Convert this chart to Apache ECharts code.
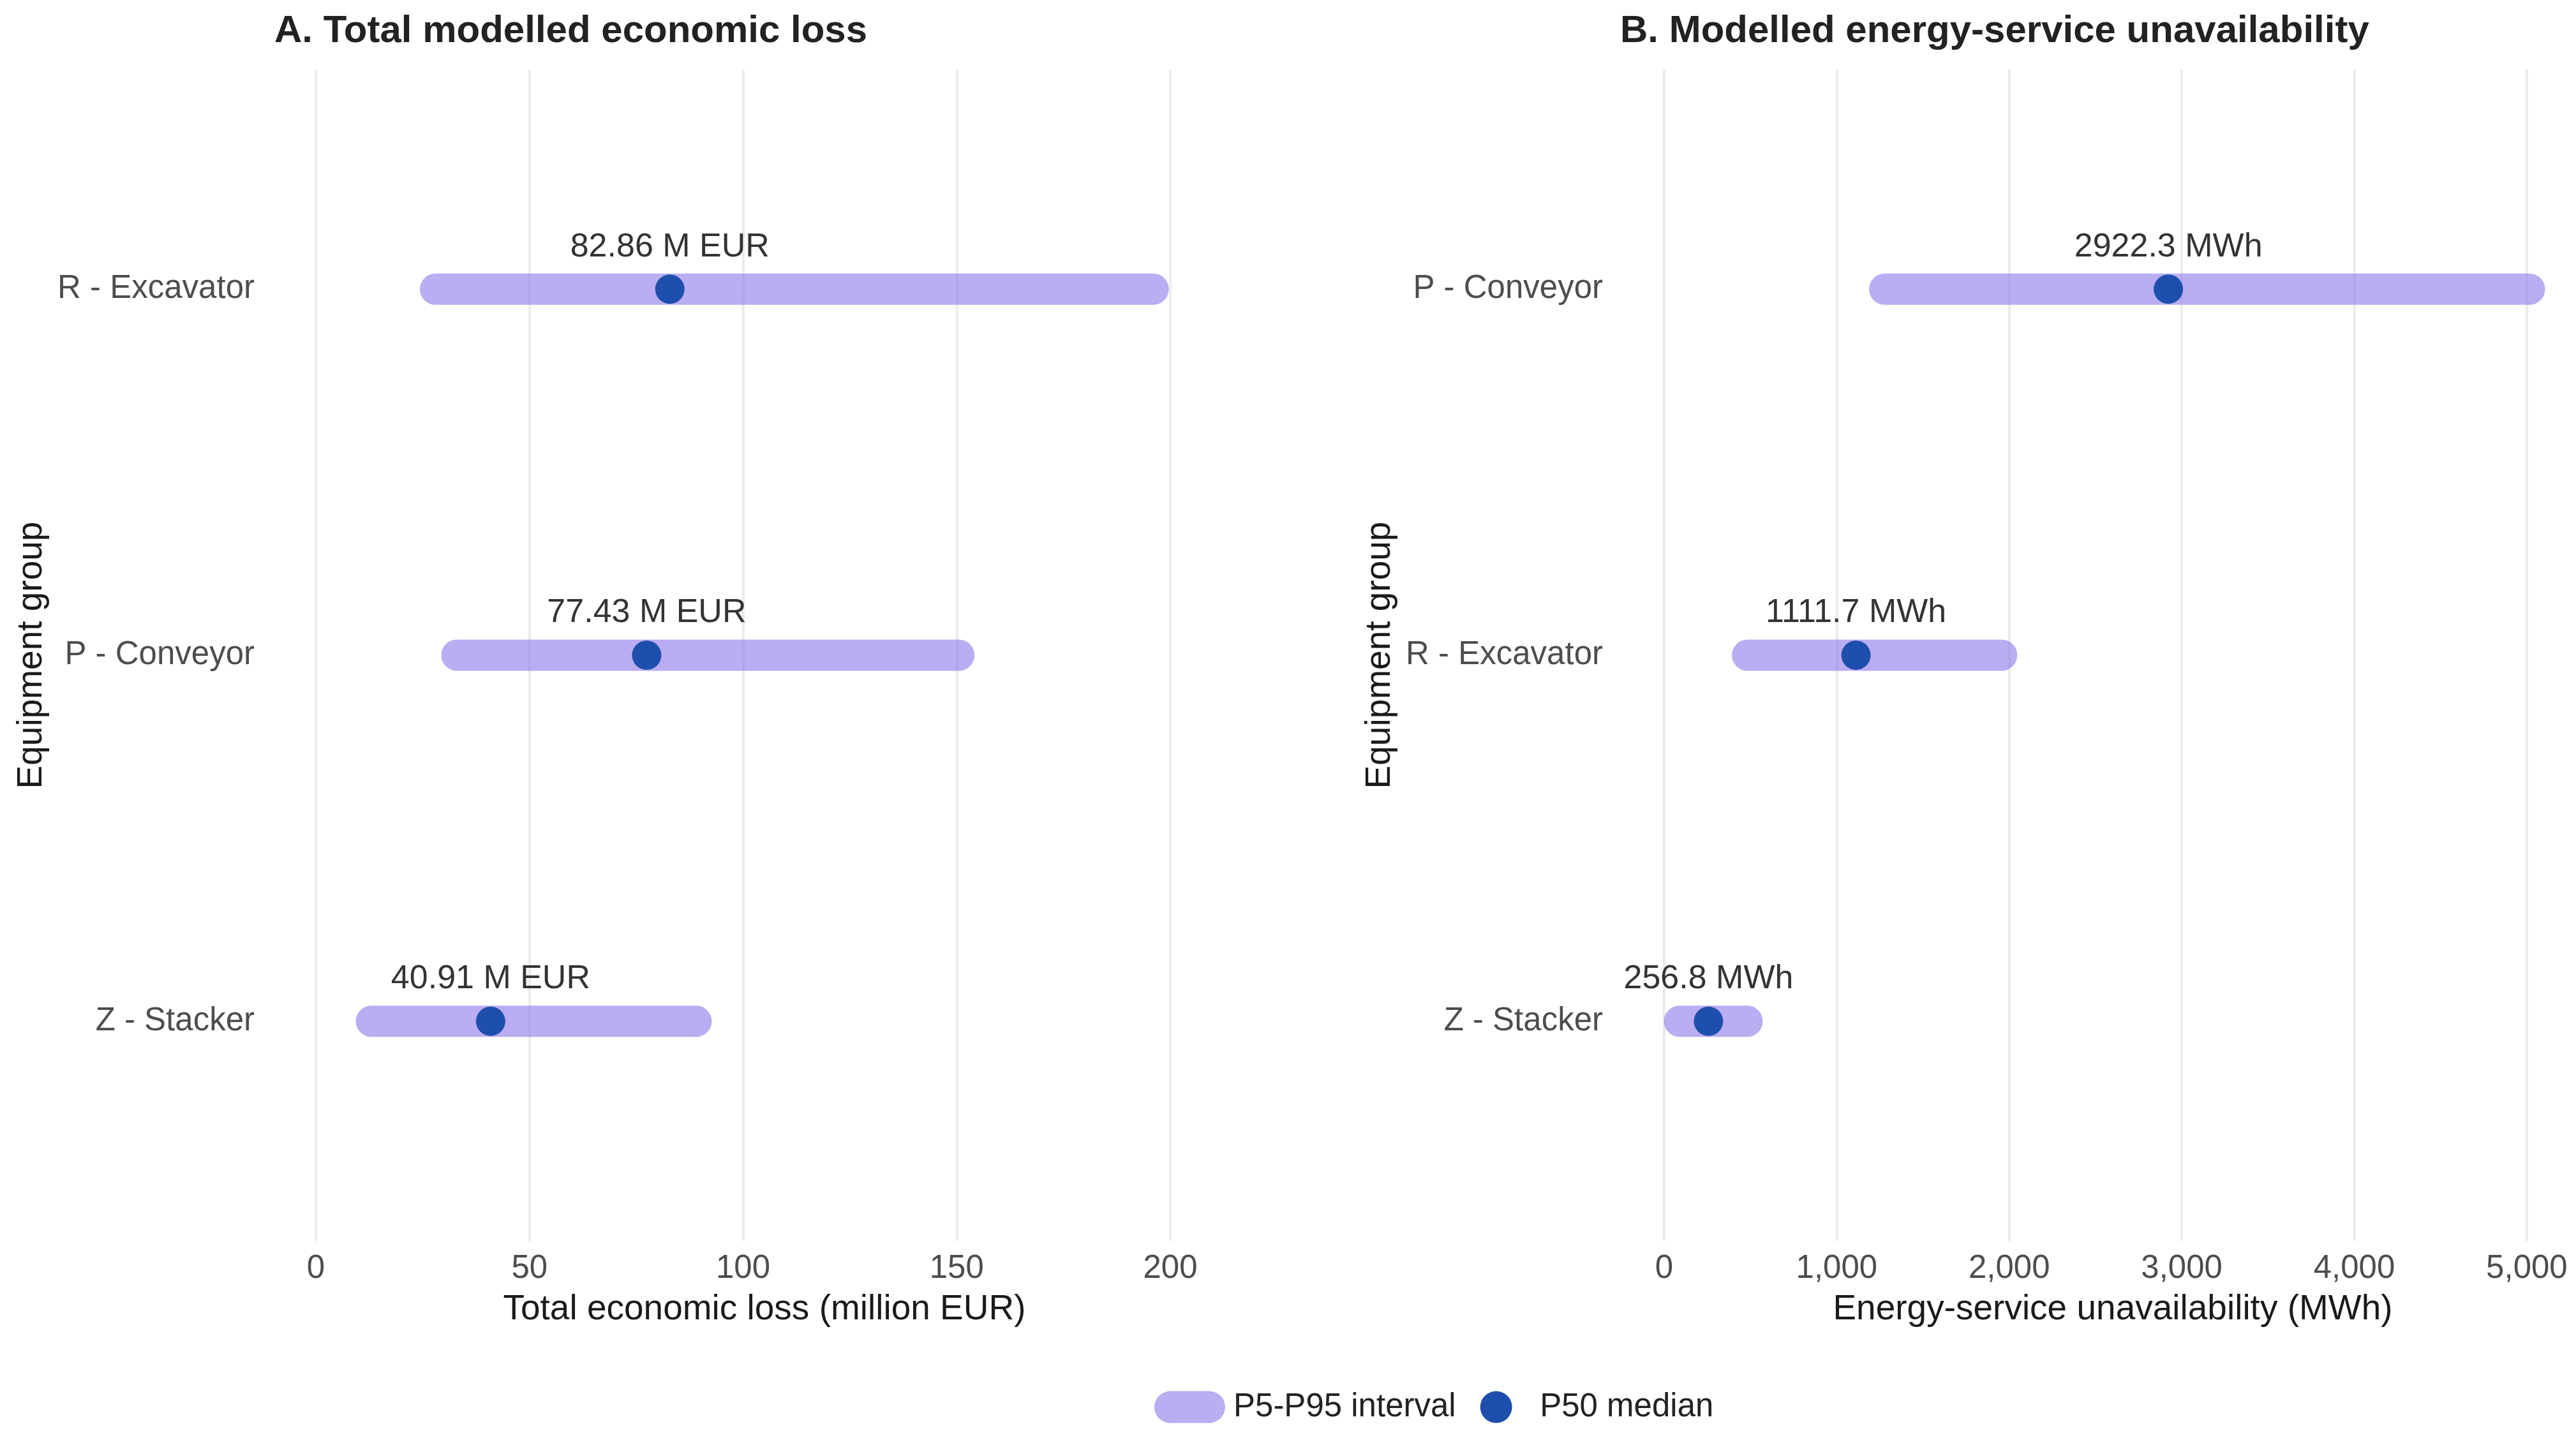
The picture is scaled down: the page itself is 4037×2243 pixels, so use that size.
<!DOCTYPE html>
<html>
<head>
<meta charset="utf-8">
<title>Modelled loss and unavailability</title>
<script src="https://cdn.jsdelivr.net/npm/echarts@6/dist/echarts.min.js"></script>
<style>
  html, body { margin: 0; padding: 0; background: #fff; }
  #main { width: 4037px; height: 2243px; }
</style>
</head>
<body>
<div id="main"></div>
<script>
// panel A - economic loss (million EUR)
const lossGroups = ['R - Excavator', 'P - Conveyor', 'Z - Stacker'];
const lossP5 = [28, 33, 13];
const lossP50 = [82.86, 77.43, 40.91];
const lossP95 = [196, 150.5, 89];
const lossTicks = [0, 50, 100, 150, 200];

// panel B - energy-service unavailability (MWh)
const energyGroups = ['P - Conveyor', 'R - Excavator', 'Z - Stacker'];
const energyP5 = [1278, 483, 89];
const energyP50 = [2922.3, 1111.7, 256.8];
const energyP95 = [5015, 1956, 481];
const energyTicks = [0, 1000, 2000, 3000, 4000, 5000];

const FONT = '"Liberation Sans", Arial, sans-serif';
const barColor = 'rgba(143,122,232,0.62)';
const dotColor = '#1f4fad';
const rowPos = [1, 2, 3];

const chart = echarts.init(document.getElementById('main'));

function intervalItem(params, api) {
    const y = api.value(2);
    const s = api.coord([api.value(0), y]);
    const e = api.coord([api.value(1), y]);
    return {
        type: 'line',
        shape: { x1: s[0], y1: s[1], x2: e[0], y2: e[1] },
        style: { stroke: barColor, lineWidth: 49, lineCap: 'round' }
    };
}

function xAxisFor(gridIndex, max, ticks, name, fmt) {
    return {
        type: 'value',
        gridIndex,
        min: 0,
        max,
        name,
        nameLocation: 'middle',
        nameGap: 80,
        nameTextStyle: { fontFamily: FONT, fontSize: 55, color: '#1a1a1a' },
        axisLine: { show: false },
        axisTick: { show: false, customValues: ticks },
        axisLabel: {
            customValues: ticks,
            margin: 18,
            fontFamily: FONT, fontSize: 51, color: '#4d4d4d',
            formatter: fmt
        },
        splitLine: { show: true, lineStyle: { color: '#ebebeb', width: 4 } }
    };
}

function yAxisFor(gridIndex, groups) {
    return {
        type: 'value',
        gridIndex,
        min: 0.4,
        max: 3.6,
        inverse: true,
        name: 'Equipment group',
        nameLocation: 'middle',
        nameRotate: 90,
        nameGap: 418,
        nameTextStyle: { fontFamily: FONT, fontSize: 55, color: '#1a1a1a' },
        axisLine: { show: false },
        axisTick: { show: false, customValues: rowPos },
        axisLabel: {
            customValues: rowPos,
            margin: 96,
            fontFamily: FONT, fontSize: 51, color: '#4d4d4d',
            formatter: v => groups[Math.round(v) - 1] || ''
        },
        splitLine: { show: false }
    };
}

const lossBars = lossGroups.map((g, i) => [lossP5[i], lossP95[i], rowPos[i]]);
const lossDots = lossGroups.map((g, i) => [lossP50[i], rowPos[i]]);
const energyBars = energyGroups.map((g, i) => [energyP5[i], energyP95[i], rowPos[i]]);
const energyDots = energyGroups.map((g, i) => [energyP50[i], rowPos[i]]);

const dotLabel = fmt => ({
    show: true,
    position: 'top',
    distance: 17,
    fontFamily: FONT,
    fontSize: 52,
    color: '#333333',
    formatter: p => fmt(p.value[0])
});

chart.setOption({
    backgroundColor: '#ffffff',
    animation: false,
    title: [
        {
            text: 'A. Total modelled economic loss',
            left: 425, top: 14,
            textStyle: { fontFamily: FONT, fontSize: 60, fontWeight: 'bold', color: '#222222' }
        },
        {
            text: 'B. Modelled energy-service unavailability',
            left: 2534, top: 14,
            textStyle: { fontFamily: FONT, fontSize: 60, fontWeight: 'bold', color: '#222222' }
        }
    ],
    legend: {
        left: 1804,
        top: 2175,
        itemWidth: 111,
        itemHeight: 50,
        itemGap: 38,
        textStyle: { fontFamily: FONT, fontSize: 51, color: '#222222', padding: [0, 0, 0, 8] },
        data: [
            { name: 'P5-P95 interval', icon: 'path://M25,0 H86 A25,25 0 0 1 86,50 H25 A25,25 0 0 1 25,0 Z' },
            { name: 'P50 median', icon: 'circle' }
        ]
    },
    grid: [
        { left: 495, top: 109, width: 1406, height: 1836 },
        { left: 2608, top: 109, width: 1406, height: 1836 }
    ],
    xAxis: [
        xAxisFor(0, 210, lossTicks, 'Total economic loss (million EUR)', v => String(v)),
        xAxisFor(1, 5200, energyTicks, 'Energy-service unavailability (MWh)', v => v.toLocaleString('en-US'))
    ],
    yAxis: [
        yAxisFor(0, lossGroups),
        yAxisFor(1, energyGroups)
    ],
    series: [
        {
            name: 'P5-P95 interval',
            type: 'custom',
            xAxisIndex: 0, yAxisIndex: 0,
            renderItem: intervalItem,
            encode: { x: [0, 1], y: 2 },
            itemStyle: { color: barColor },
            data: lossBars,
            z: 2
        },
        {
            name: 'P50 median',
            type: 'scatter',
            xAxisIndex: 0, yAxisIndex: 0,
            symbolSize: 46,
            itemStyle: { color: dotColor, opacity: 1 },
            label: dotLabel(v => v.toFixed(2) + ' M EUR'),
            data: lossDots,
            z: 3
        },
        {
            name: 'P5-P95 interval',
            type: 'custom',
            xAxisIndex: 1, yAxisIndex: 1,
            renderItem: intervalItem,
            encode: { x: [0, 1], y: 2 },
            itemStyle: { color: barColor },
            data: energyBars,
            z: 2
        },
        {
            name: 'P50 median',
            type: 'scatter',
            xAxisIndex: 1, yAxisIndex: 1,
            symbolSize: 46,
            itemStyle: { color: dotColor, opacity: 1 },
            label: dotLabel(v => v.toFixed(1) + ' MWh'),
            data: energyDots,
            z: 3
        }
    ]
});
</script>
</body>
</html>
